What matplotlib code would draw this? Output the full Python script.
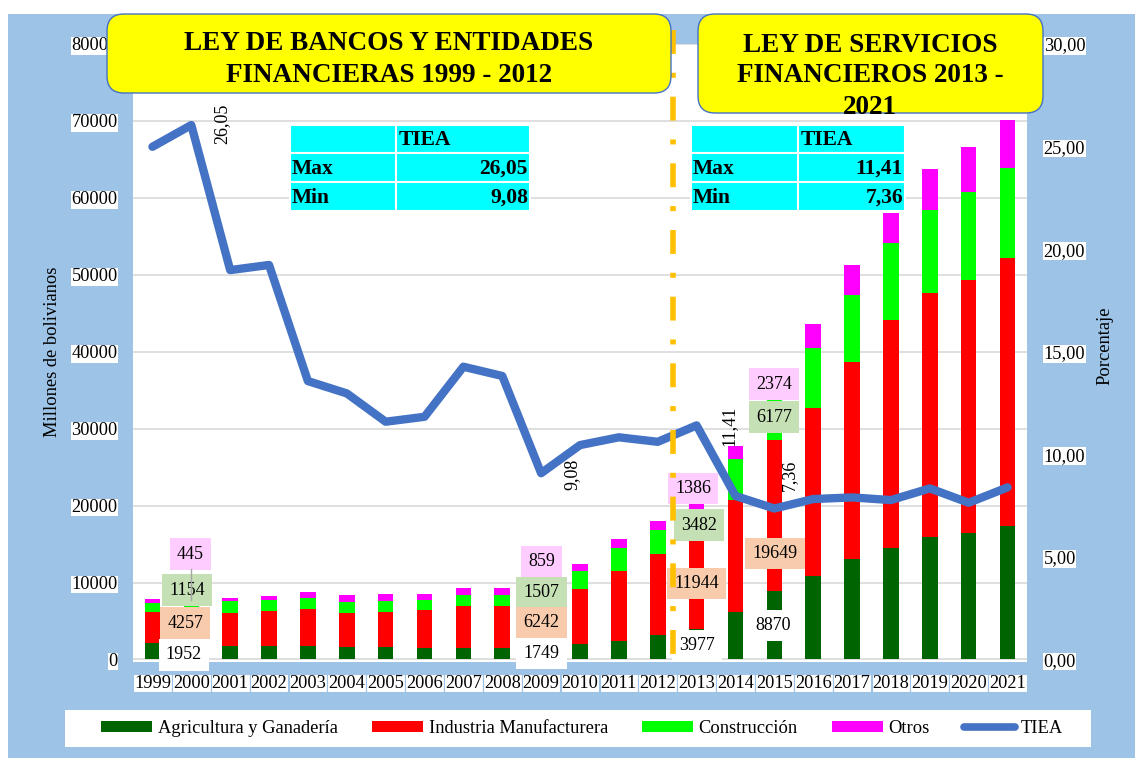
import matplotlib
matplotlib.use("Agg")
import matplotlib.pyplot as plt
from matplotlib.patches import Rectangle, FancyBboxPatch, Patch
from matplotlib.lines import Line2D

plt.rcParams['font.family'] = ['Liberation Serif', 'DejaVu Serif']

# data (millones de bolivianos)
years = [str(y) for y in range(1999, 2022)]
agricultura = [2100, 1952, 1750, 1790, 1790, 1670, 1580, 1540, 1450, 1450, 1749, 2060,
               2450, 3140, 3977, 6130, 8870, 10890, 13030, 14455, 15965, 16485, 17395]
industria = [4110, 4257, 4250, 4550, 4730, 4330, 4630, 4930, 5540, 5540, 6242, 7150,
             9100, 10610, 11944, 14600, 19649, 21840, 25680, 29680, 31635, 32850, 34800]
construccion = [1170, 1154, 1570, 1430, 1430, 1510, 1390, 1300, 1350, 1390, 1507, 2250,
                2940, 3040, 3482, 5300, 6177, 7800, 8675, 9965, 10835, 11440, 11660]
otros = [480, 445, 460, 480, 780, 830, 910, 700, 910, 870, 859, 955,
         1130, 1170, 1386, 1700, 2374, 3070, 3900, 3985, 5290, 5890, 6280]
tiea = [24.99, 26.05, 18.98, 19.23, 13.57, 12.97, 11.59, 11.83, 14.27, 13.82, 9.08, 10.45,
        10.83, 10.61, 11.41, 7.97, 7.36, 7.82, 7.90, 7.77, 8.34, 7.64, 8.39]

series_names = ['Agricultura y Ganadería', 'Industria Manufacturera', 'Construcción', 'Otros']
series = [agricultura, industria, construccion, otros]
colors = ['#006400', '#FF0000', '#00FF00', '#FF00FF']
line_color = '#4472C4'
bg_blue = '#9DC3E6'

W, H = 1135, 758
fig = plt.figure(figsize=(W / 100, H / 100), dpi=100)
fig.patch.set_facecolor('white')


def px(x, y):
    # image pixel (top-left origin) -> inches for fig.dpi_scale_trans
    return x / 100, (H - y) / 100


fig.add_artist(Rectangle(px(8, H), (W - 8) / 100, (H - 14) / 100,
                         transform=fig.dpi_scale_trans, facecolor=bg_blue,
                         edgecolor='none', zorder=-10))

ax = fig.add_axes([133 / W, (H - 662) / H, (1027 - 133) / W, (662 - 44) / H])
ax.set_facecolor('white')
ymin = -325
ax.set_ylim(ymin, 80000)
ax.set_xlim(-0.5, len(years) - 0.5)
for s in ax.spines.values():
    s.set_visible(False)
ax.set_yticks(range(0, 80001, 10000))
ax.set_yticklabels([str(v) for v in range(0, 80001, 10000)])
ax.yaxis.grid(True, color='#D9D9D9', lw=1.2)
ax.set_axisbelow(True)
ax.tick_params(axis='y', length=0, pad=11, labelsize=13.2)
ax.set_xticks(range(len(years)))
ax.set_xticklabels(years)
ax.tick_params(axis='x', length=0, pad=9, labelsize=13.2)
for t in ax.get_yticklabels():
    t.set_bbox(dict(facecolor='white', edgecolor='none', boxstyle='square,pad=0.02'))
for t in ax.get_xticklabels():
    t.set_bbox(dict(facecolor='white', edgecolor=bg_blue, lw=0.8, boxstyle='square,pad=0.05'))

x = list(range(len(years)))
bottom = [0] * len(years)
for vals, col in zip(series, colors):
    ax.bar(x, vals, width=0.4, bottom=bottom, color=col, zorder=2)
    bottom = [b + v for b, v in zip(bottom, vals)]

ax2 = ax.twinx()
ax2.set_ylim(ymin * 30 / 80000, 30)
for s in ax2.spines.values():
    s.set_visible(False)
ax2.set_yticks(range(0, 31, 5))
ax2.set_yticklabels([f"{v:.2f}".replace('.', ',') for v in range(0, 31, 5)])
ax2.tick_params(axis='y', length=0, pad=12, labelsize=13.2)
for t in ax2.get_yticklabels():
    t.set_bbox(dict(facecolor='white', edgecolor='none', boxstyle='square,pad=0.02'))

ax2.plot(x, tiea, color=line_color, lw=6, solid_joinstyle='round',
         solid_capstyle='round', zorder=3)

# rotated labels on the TIEA line (index, offset in points)
for i, off in [(1, (22, 1)), (10, (22, -1)), (14, (23, 0)), (16, (11, 24))]:
    ax2.annotate(f"{tiea[i]:.2f}".replace('.', ','), (i, tiea[i]), xytext=off,
                 textcoords='offset points', rotation=90, ha='center', va='center',
                 fontsize=13, zorder=4)

# hand-placed bar data labels: (index, series no., label centre value, x shift)
lab_bg = ['white', '#F8CBAD', '#C5E0B4', '#FFCCFF']
label_specs = [
    (1, 3, 13705, -0.02), (1, 2, 9028, -0.11), (1, 1, 4741, -0.16), (1, 0, 585, -0.19),
    (10, 3, 12704, 0.01), (10, 2, 8677, 0.01), (10, 1, 4767, 0.01), (10, 0, 753, 0.01),
    (14, 3, 22213, -0.09), (14, 2, 17472, 0.06), (14, 1, 9872, 0.0), (14, 0, 1793, 0.01),
    (16, 3, 35787, -0.01), (16, 2, 31500, -0.01), (16, 1, 13769, 0.02), (16, 0, 4417, -0.02),
]
for i, k, yc, dx in label_specs:
    ax.text(i + dx, yc, str(series[k][i]), ha='center', va='center', fontsize=13,
            zorder=5, clip_on=False,
            bbox=dict(facecolor=lab_bg[k], edgecolor='none', boxstyle='square,pad=0.4'))
ax.plot([0.99, 0.99], [11750, 7730], color='#A6A6A6', lw=1, zorder=6)

# dividing line between the two laws
ax2.plot([13.385, 13.385], [30.68, 0], color='#FFC000', lw=4,
         ls=(0, (4.3, 3.4, 0.9, 3.4)), dash_capstyle='butt',
         clip_on=False, zorder=7)

# axis titles
fig.text(53 / W, 1 - 352 / H, 'Millones de bolivianos', rotation=90, ha='center',
         va='center', fontsize=13.3)
fig.text(1105 / W, 1 - 346 / H, 'Porcentaje', rotation=90, ha='center',
         va='center', fontsize=13.3)

# title boxes
for (x0, y0, x1, y1), lines, ys, cx in [
        ((107, 14, 671, 93), ['LEY DE BANCOS Y ENTIDADES', 'FINANCIERAS 1999 - 2012'],
         [44, 75], 389),
        ((698, 14, 1043, 113), ['LEY DE SERVICIOS', 'FINANCIEROS 2013 -', '2021'],
         [45, 76, 107], 870)]:
    fig.add_artist(FancyBboxPatch(px(x0, y1), (x1 - x0) / 100, (y1 - y0) / 100,
                                  boxstyle='round,pad=0,rounding_size=0.17',
                                  transform=fig.dpi_scale_trans, facecolor='#FFFF00',
                                  edgecolor='#4472C4', lw=1, zorder=10))
    for txt, yy in zip(lines, ys):
        fig.text(*px(cx, yy), txt, transform=fig.dpi_scale_trans, ha='center',
                 va='center', fontsize=19.5, fontweight='bold', zorder=11)


# TIEA summary tables
def fmt(v):
    return f"{v:.2f}".replace('.', ',')


periods = [(tiea[:14], 290, 396, 530), (tiea[14:], 691, 798, 905)]
rows = [125, 153, 182, 211]
for vals, xa, xb, xc in periods:
    for r in range(3):
        for (c0, c1) in [(xa, xb), (xb, xc)]:
            fig.add_artist(Rectangle(px(c0, rows[r + 1]), (c1 - c0) / 100,
                                     (rows[r + 1] - rows[r]) / 100,
                                     transform=fig.dpi_scale_trans, facecolor='#00FFFF',
                                     edgecolor='white', lw=1.5, zorder=12))
    kw = dict(transform=fig.dpi_scale_trans, va='center', fontsize=15.5,
              fontweight='bold', zorder=13)
    fig.text(*px(xb + 3, 140), 'TIEA', ha='left', **kw)
    fig.text(*px(xa + 2, 169), 'Max', ha='left', **kw)
    fig.text(*px(xc - 2, 169), fmt(max(vals)), ha='right', **kw)
    fig.text(*px(xa + 2, 198), 'Min', ha='left', **kw)
    fig.text(*px(xc - 2, 198), fmt(min(vals)), ha='right', **kw)

# legend
fig.add_artist(Rectangle(px(65, 747), (1091 - 65) / 100, (747 - 710) / 100,
                         transform=fig.dpi_scale_trans, facecolor='white',
                         edgecolor='none', zorder=1))
handles = [Patch(facecolor=c) for c in colors]
handles.append(Line2D([], [], color=line_color, lw=5.5, solid_capstyle='round'))
leg = fig.legend(handles, series_names + ['TIEA'], loc='center',
                 bbox_to_anchor=(582 / W, 1 - 728.5 / H), ncol=5, frameon=False,
                 fontsize=13.3, handlelength=2.76, handleheight=0.54,
                 handletextpad=0.32, columnspacing=1.84)
leg.set_zorder(2)

fig.savefig('out.png', dpi=100)
